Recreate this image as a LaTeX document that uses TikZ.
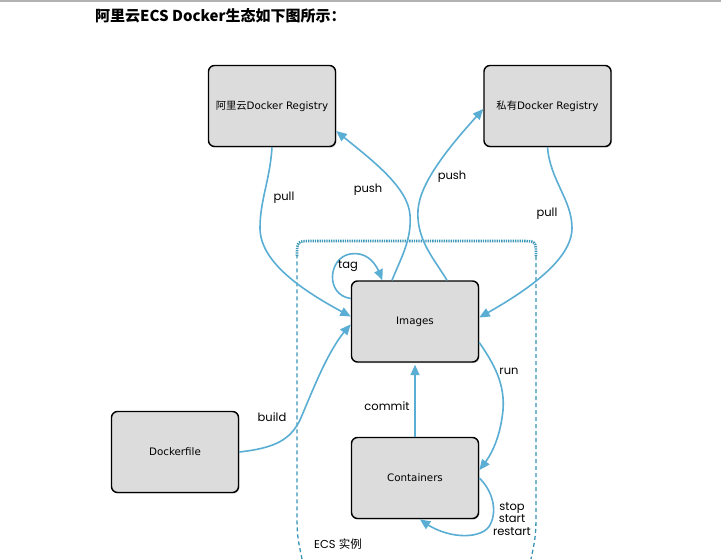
\documentclass[tikz,border=0pt]{standalone}
\usepackage{fontspec}
\setmainfont{DejaVu Sans}
\newfontfamily\cjk{Noto Sans CJK SC}
\newfontfamily\lbl{Poppins}
\usetikzlibrary{arrows.meta,shadows,bending}
\definecolor{arr}{RGB}{90,174,211}
\definecolor{ecs}{RGB}{58,150,182}
\definecolor{boxfill}{RGB}{220,220,220}
\tikzset{
  box/.style={draw=black, line width=1.4pt, fill=boxfill, rounded corners=6pt,
    minimum width=127pt, minimum height=81pt, inner sep=0pt,
    font=\fontsize{10.3}{12}\selectfont,
    drop shadow={shadow xshift=1pt, shadow yshift=-1.2pt, opacity=0.35}},
  conn/.style={draw=arr, line width=1.6pt, -{Triangle[length=10.5pt,width=9pt,bend]}},
  lab/.style={font=\lbl\fontsize{11.5}{13}\selectfont, inner sep=0pt, align=center},
  ecsside/.style={draw=ecs, line width=1.3pt, dash pattern=on 4pt off 3pt},
  ecstop/.style={draw=ecs, line width=2.6pt, dash pattern=on 1.3pt off 1pt},
}
\begin{document}
\begin{tikzpicture}[x=1pt,y=-1pt]
\useasboundingbox (0,0) rectangle (721,559);
\fill[white] (0,0) rectangle (721,559);
\draw[gray!60, line width=1.5pt] (0,1) -- (721,1);
\node[anchor=west, inner sep=0pt, font=\cjk\bfseries\fontsize{15}{18}\selectfont] (title) at (95,16) {阿里云ECS Docker生态如下图所示：};

% ECS instance frame
\draw[ecsside] (302,559) .. controls (297,535) .. (297,505) -- (297,256);
\draw[ecstop] (297,256) .. controls (297,241) .. (312,241) -- (521,241) .. controls (536,241) .. (536,256);
\draw[ecsside] (536,256) -- (536,505) .. controls (536,535) .. (531,559);

% boxes
\node[box] (reg1) at (272,106) {{\cjk 阿里云}Docker Registry};
\node[box] (reg2) at (547.5,106) {{\cjk 私有}Docker Registry};
\node[box] (img) at (415,321.5) {Images};
\node[box] (cont) at (415,478) {Containers};
\node[box] (dfile) at (175,452) {Dockerfile};

% connectors
\draw[conn] (reg1.south) .. controls (270,180) and (260,200) .. (260,228)
  .. controls (260,265) and (310,295) .. ([yshift=5pt]img.west);
\draw[conn] ([xshift=-23pt]img.north) .. controls (400,260) and (412,240) .. (410,215)
  .. controls (408,185) and (365,155) .. ([yshift=-25pt]reg1.east);
\draw[conn] ([xshift=32pt]img.north) .. controls (435,260) and (416,240) .. (418,210)
  .. controls (420,180) and (455,140) .. ([yshift=-3pt]reg2.west);
\draw[conn] (reg2.south) .. controls (550,180) and (572,200) .. (572,228)
  .. controls (572,262) and (520,295) .. ([yshift=4pt]img.east);
\draw[conn] ([yshift=23pt]img.west) .. controls (325,295) and (328,258) .. (350,254)
  .. controls (368,251) and (378,265) .. ([xshift=-33pt]img.north);
\draw[conn] (dfile.east) .. controls (275,448) and (290,440) .. (300,420)
  .. controls (315,385) and (330,345) .. ([yshift=-3pt]img.west);
\draw[conn, shorten >=2pt] (cont.north) -- (img.south);
\draw[conn] ([yshift=-21pt]img.east) .. controls (495,365) and (505,385) .. (503,410)
  .. controls (500,440) and (490,458) .. ([yshift=8pt]cont.east);
\draw[conn] (cont.east) .. controls (492,490) and (498,510) .. (490,525)
  .. controls (482,540) and (445,540) .. ([xshift=5pt]cont.south);

% labels
\node[lab] (lpullL) at (284,198) {pull};
\node[lab] (lpushL) at (368,190) {push};
\node[lab] (lpushR) at (452,177) {push};
\node[lab] (lpullR) at (547,214) {pull};
\node[lab] (ltag) at (348,266) {tag};
\node[lab] (lbuild) at (272,417) {build};
\node[lab] (lcommit) at (387,406) {commit};
\node[lab] (lrun) at (509,371) {run};
\node[lab, font=\lbl\fontsize{11.5}{12.5}\selectfont] (lssr) at (512,519) {stop\\start\\restart};
\node[lab] (lecs) at (338,544) {ECS {\cjk 实例}};
\end{tikzpicture}
\end{document}
